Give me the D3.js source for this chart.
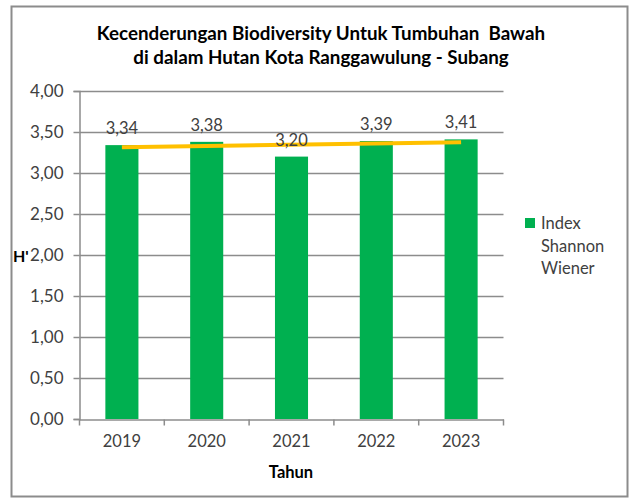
<!DOCTYPE html>
<html>
<head>
<meta charset="utf-8">
<script src="https://cdn.jsdelivr.net/npm/d3@7"></script>
<style>
	body { margin: 0; background: #fff; }
	text { font-family: Lato, "Liberation Sans", sans-serif; }
</style>
</head>
<body>
<svg id="chart" width="634" height="501"></svg>
<script>
"use strict";

// data
var years = ['2019', '2020', '2021', '2022', '2023'];
var shannon = [3.34, 3.38, 3.20, 3.39, 3.41];
var yTicks = [0, 0.5, 1, 1.5, 2, 2.5, 3, 3.5, 4];
var titleLines = ['Kecenderungan Biodiversity Untuk Tumbuhan\u00a0 Bawah', 'di dalam Hutan Kota Ranggawulung - Subang'];
var legendLines = ['Index', 'Shannon', 'Wiener'];

var colors = {
	bar: '#00b050',
	trend: '#ffc000',
	grid: '#8c8c8c',
	text: '#404040'
};

var svg = d3.select('#chart');
var fmt = function(v) { return d3.format('.2f')(v).replace('.', ','); };

// outer frame
svg.append('rect')
	.attr('x', 11.5).attr('y', 6.5)
	.attr('width', 616).attr('height', 490)
	.attr('fill', 'none').attr('stroke', '#8c8c8c').attr('stroke-width', 2);

var x = d3.scaleBand().domain(years).range([79.5, 503.5]).paddingInner(0.61).paddingOuter(0.305);
var y = d3.scaleLinear().domain([0, 4]).range([419, 91]);

// title
svg.append('g').selectAll('text')
	.data(titleLines)
	.enter().append('text')
	.attr('x', 321)
	.attr('y', function(d, i) { return 40 + i * 24; })
	.attr('text-anchor', 'middle')
	.attr('font-size', 18.8)
	.attr('font-weight', 'bold')
	.attr('fill', '#000')
	.text(function(d) { return d; });

// gridlines
svg.append('g').selectAll('line')
	.data(yTicks.filter(function(d) { return d > 0; }))
	.enter().append('line')
	.attr('x1', 79.5).attr('x2', 503.5)
	.attr('y1', function(d) { return Math.round(y(d)) + 0.5; })
	.attr('y2', function(d) { return Math.round(y(d)) + 0.5; })
	.attr('stroke', colors.grid).attr('stroke-width', 1.5);

// y axis
var yAxis = svg.append('g')
	.attr('transform', 'translate(79.5,0)')
	.call(d3.axisLeft(y).tickValues(yTicks).tickFormat(fmt).tickSize(6).tickPadding(10));
yAxis.selectAll('line, path').attr('stroke', colors.grid).attr('stroke-width', 1.5);
yAxis.selectAll('text').attr('font-size', 17).attr('fill', colors.text).attr('font-family', 'Lato, sans-serif');

// bars
svg.append('g').selectAll('rect')
	.data(shannon)
	.enter().append('rect')
	.attr('x', function(d, i) { return x(years[i]); })
	.attr('y', function(d) { return y(d); })
	.attr('width', x.bandwidth())
	.attr('height', function(d) { return y(0) - y(d); })
	.attr('fill', colors.bar);

// x axis
var xAxis = svg.append('g')
	.attr('transform', 'translate(0,' + (y(0) + 0.5) + ')')
	.call(d3.axisBottom(x).tickSize(0).tickPadding(16));
xAxis.selectAll('path').attr('stroke', colors.grid).attr('stroke-width', 1.5);
xAxis.selectAll('text').attr('font-size', 16.5).attr('fill', colors.text).attr('font-family', 'Lato, sans-serif');
// boundary ticks between categories
var bounds = years.map(function(d, i) { return 79.5 + i * x.step(); }).concat([503.5]);
xAxis.selectAll('.bound').data(bounds).enter().append('line')
	.attr('x1', function(d) { return d; }).attr('x2', function(d) { return d; })
	.attr('y1', 0).attr('y2', 6)
	.attr('stroke', colors.grid).attr('stroke-width', 1.5);

// linear trend line computed from the series
var n = shannon.length;
var mx = (n - 1) / 2;
var my = d3.mean(shannon);
var slope = d3.sum(shannon, function(v, i) { return (i - mx) * (v - my); }) /
	d3.sum(shannon, function(v, i) { return (i - mx) * (i - mx); });
var trend = years.map(function(d, i) { return [x(d) + x.bandwidth() / 2, my + slope * (i - mx)]; });
svg.append('path')
	.datum([trend[0], trend[n - 1]])
	.attr('d', d3.line().x(function(d) { return d[0]; }).y(function(d) { return y(d[1]); }))
	.attr('stroke', colors.trend).attr('stroke-width', 4).attr('fill', 'none');

// data labels
svg.append('g').selectAll('text')
	.data(shannon)
	.enter().append('text')
	.attr('x', function(d, i) { return x(years[i]) + x.bandwidth() / 2; })
	.attr('y', function(d) { return y(d) - 11; })
	.attr('text-anchor', 'middle')
	.attr('font-size', 16.5)
	.attr('fill', colors.text)
	.text(fmt);

// axis titles
svg.append('text')
	.attr('x', 291).attr('y', 478)
	.attr('text-anchor', 'middle')
	.attr('font-size', 16.5).attr('font-weight', 'bold').attr('fill', '#000')
	.text('Tahun');
svg.append('text')
	.attr('x', 13).attr('y', 262)
	.attr('font-size', 16).attr('font-weight', 'bold').attr('fill', '#000')
	.text("H'");

// legend
var legend = svg.append('g').attr('transform', 'translate(525,218)');
legend.append('rect')
	.attr('width', 10).attr('height', 10)
	.attr('fill', colors.bar);
legend.selectAll('text')
	.data(legendLines)
	.enter().append('text')
	.attr('x', 16)
	.attr('y', function(d, i) { return 11 + i * 22.5; })
	.attr('font-size', 16.5)
	.attr('fill', colors.text)
	.text(function(d) { return d; });
</script>
</body>
</html>
